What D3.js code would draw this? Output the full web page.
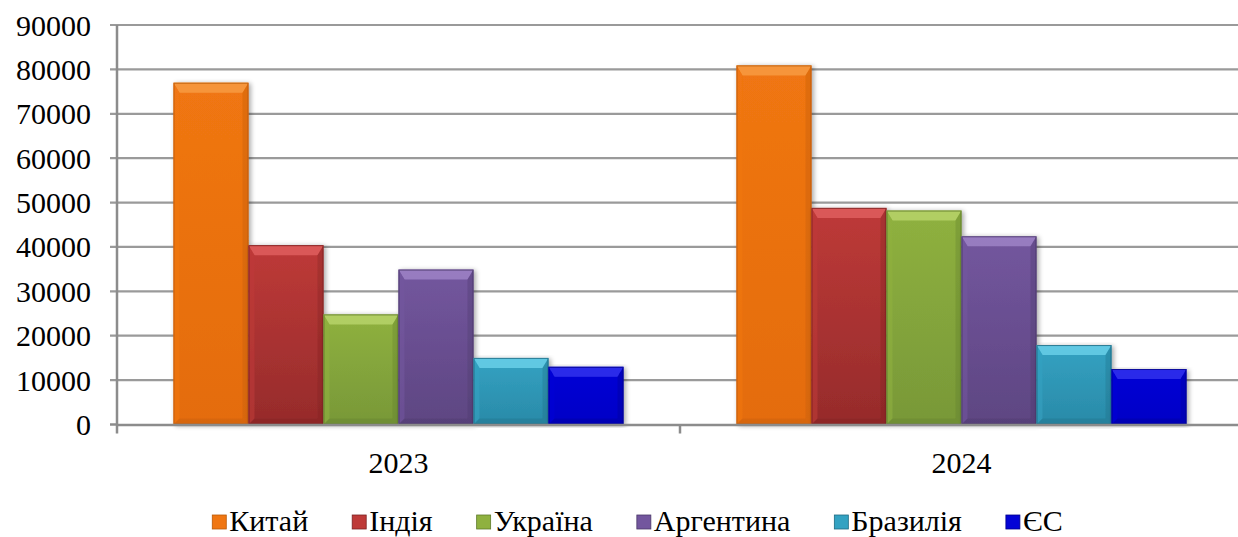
<!DOCTYPE html>
<html><head><meta charset="utf-8">
<script src="https://cdn.jsdelivr.net/npm/d3@7"></script>
<style>
html,body{margin:0;padding:0;background:#fff;}
svg{display:block;}
svg text{font-family:"Liberation Serif","Times New Roman",Times,"DejaVu Serif","Noto Serif",serif !important;}
</style></head>
<body>
<svg id="chart" width="1238" height="537"></svg>
<script>
const years = ["2023", "2024"];
const series = ["Китай", "Індія", "Україна", "Аргентина", "Бразилія", "ЄС"];
const values2023 = [77000, 40400, 24800, 34900, 15000, 13000];
const values2024 = [80900, 48800, 48200, 42400, 17900, 12500];
const yTicks = [0, 10000, 20000, 30000, 40000, 50000, 60000, 70000, 80000, 90000];
const colors = ["#F07612", "#BE3A38", "#8FB13F", "#73569E", "#33A2C2", "#0404D6"];
const darkColors = ["#E46C0C", "#962B2B", "#789838", "#5E4682", "#2A8AA8", "#0000C6"];
const lightColors = ["#F8A04A", "#E46464", "#BCD870", "#A488CC", "#70D6EE", "#3A3AF0"];
const edgeColors = ["#B85A08", "#7A2222", "#5E7A2A", "#4A3868", "#1E6A82", "#00008A"];

const data = [values2023, values2024];

const svg = d3.select("#chart");
const pL = 117, pR = 1243, pT = 25, pB = 424.5;
const fontSize = 30;
const serif = '"Liberation Serif", "Times New Roman", Times, "DejaVu Serif", serif';

const y = d3.scaleLinear().domain([0, 90000]).range([pB, pT]);
const x0 = d3.scaleBand().domain(years).range([pL, pR]).padding(0);
const gapHalf = 56.5;
const x1 = d3.scaleBand().domain(series).range([gapHalf, x0.bandwidth() - gapHalf]).padding(0);

const defs = svg.append("defs");
series.forEach((s, i) => {
  const g = defs.append("linearGradient").attr("id", "g" + i).attr("x1", 0).attr("y1", 0).attr("x2", 0).attr("y2", 1);
  g.append("stop").attr("offset", "0%").attr("stop-color", colors[i]);
  g.append("stop").attr("offset", "100%").attr("stop-color", darkColors[i]);
});
const sh = defs.append("filter").attr("id", "shadow").attr("x", "-20%").attr("y", "-5%").attr("width", "140%").attr("height", "110%");
sh.append("feGaussianBlur").attr("in", "SourceAlpha").attr("stdDeviation", 2.5).attr("result", "b");
sh.append("feOffset").attr("in", "b").attr("dx", 2).attr("dy", 1).attr("result", "o");
sh.append("feComponentTransfer").attr("in", "o").attr("result", "s").append("feFuncA").attr("type", "linear").attr("slope", 0.35);
const mg = sh.append("feMerge");
mg.append("feMergeNode").attr("in", "s");
mg.append("feMergeNode").attr("in", "SourceGraphic");

// gridlines
svg.append("g").selectAll("line").data(yTicks.filter(d => d > 0)).join("line")
  .attr("x1", pL - 7).attr("x2", pR)
  .attr("y1", d => y(d)).attr("y2", d => y(d))
  .attr("stroke", "#9a9a9a").attr("stroke-width", 2.2);

// y labels
svg.append("g").selectAll("text").data(yTicks).join("text")
  .attr("x", 91).attr("y", d => y(d)).attr("dy", "0.35em")
  .attr("text-anchor", "end").attr("font-size", fontSize)
  .style("font-family", serif)
  .text(d => d);

// bars
const groups = svg.append("g").selectAll("g").data(years).join("g")
  .attr("transform", d => `translate(${x0(d)},0)`);

groups.each(function(yr, yi) {
  const g = d3.select(this);
  series.forEach((s, i) => {
    const v = data[yi][i];
    const bx = x1(s), bw = x1.bandwidth();
    const by = y(v), bh = y(0) - y(v);
    const bar = g.append("g").attr("filter", "url(#shadow)");
    bar.append("rect").attr("x", bx).attr("y", by).attr("width", bw).attr("height", bh)
      .attr("fill", "url(#g" + i + ")");
    const bv = 10, sv = 6;
    const pts = a => a.map(p => p.join(",")).join(" ");
    bar.append("polygon")
      .attr("points", pts([[bx, by], [bx + bw, by], [bx + bw - sv, by + bv], [bx + sv, by + bv]]))
      .attr("fill", lightColors[i]).attr("opacity", 0.75);
    bar.append("polygon")
      .attr("points", pts([[bx, by], [bx + sv, by + bv], [bx + sv, by + bh - sv], [bx, by + bh]]))
      .attr("fill", colors[i]).attr("opacity", 0.6);
    bar.append("polygon")
      .attr("points", pts([[bx + bw, by], [bx + bw - sv, by + bv], [bx + bw - sv, by + bh - sv], [bx + bw, by + bh]]))
      .attr("fill", edgeColors[i]).attr("opacity", 0.3);
    bar.append("polygon")
      .attr("points", pts([[bx, by + bh], [bx + sv, by + bh - sv], [bx + bw - sv, by + bh - sv], [bx + bw, by + bh]]))
      .attr("fill", edgeColors[i]).attr("opacity", 0.3);
    bar.append("rect").attr("x", bx + 0.5).attr("y", by + 0.5).attr("width", bw - 1).attr("height", bh - 1)
      .attr("fill", "none").attr("stroke", edgeColors[i]).attr("stroke-width", 1).attr("opacity", 0.8);
  });
});

// axes
const axisColor = "#8c8c8c";
svg.append("line").attr("x1", pL).attr("x2", pL).attr("y1", pT).attr("y2", pB + 9)
  .attr("stroke", axisColor).attr("stroke-width", 2.5);
svg.append("line").attr("x1", pL - 7).attr("x2", pL).attr("y1", y(0)).attr("y2", y(0))
  .attr("stroke", axisColor).attr("stroke-width", 2.5);
svg.append("line").attr("x1", pL).attr("x2", pR).attr("y1", y(0) + 0.5).attr("y2", y(0) + 0.5)
  .attr("stroke", axisColor).attr("stroke-width", 2.5);
svg.append("g").selectAll("line").data(years.slice(1)).join("line")
  .attr("x1", d => x0(d)).attr("x2", d => x0(d))
  .attr("y1", y(0)).attr("y2", y(0) + 9)
  .attr("stroke", axisColor).attr("stroke-width", 2.5);

// category labels
svg.append("g").selectAll("text").data(years).join("text")
  .attr("x", d => x0(d) + x0.bandwidth() / 2).attr("y", 473)
  .attr("text-anchor", "middle").attr("font-size", fontSize)
  .style("font-family", serif)
  .text(d => d);

// legend
const legend = svg.append("g");
const items = legend.selectAll("g").data(series).join("g");
items.append("rect").attr("width", 14).attr("height", 14).attr("y", -16)
  .attr("fill", (d, i) => colors[i]).attr("stroke", (d, i) => edgeColors[i]).attr("stroke-width", 0.8);
items.append("text").attr("x", 17).attr("y", 0).attr("font-size", fontSize)
  .style("font-family", serif).text(d => d);
const widths = [];
items.each(function() {
  widths.push(17 + d3.select(this).select("text").node().getComputedTextLength());
});
const gap = 44;
const total = d3.sum(widths) + gap * (widths.length - 1);
let start = 637.5 - total / 2;
items.attr("transform", (d, i) => {
  const tx = start; start += widths[i] + gap;
  return `translate(${tx},531)`;
});
</script>
</body></html>
